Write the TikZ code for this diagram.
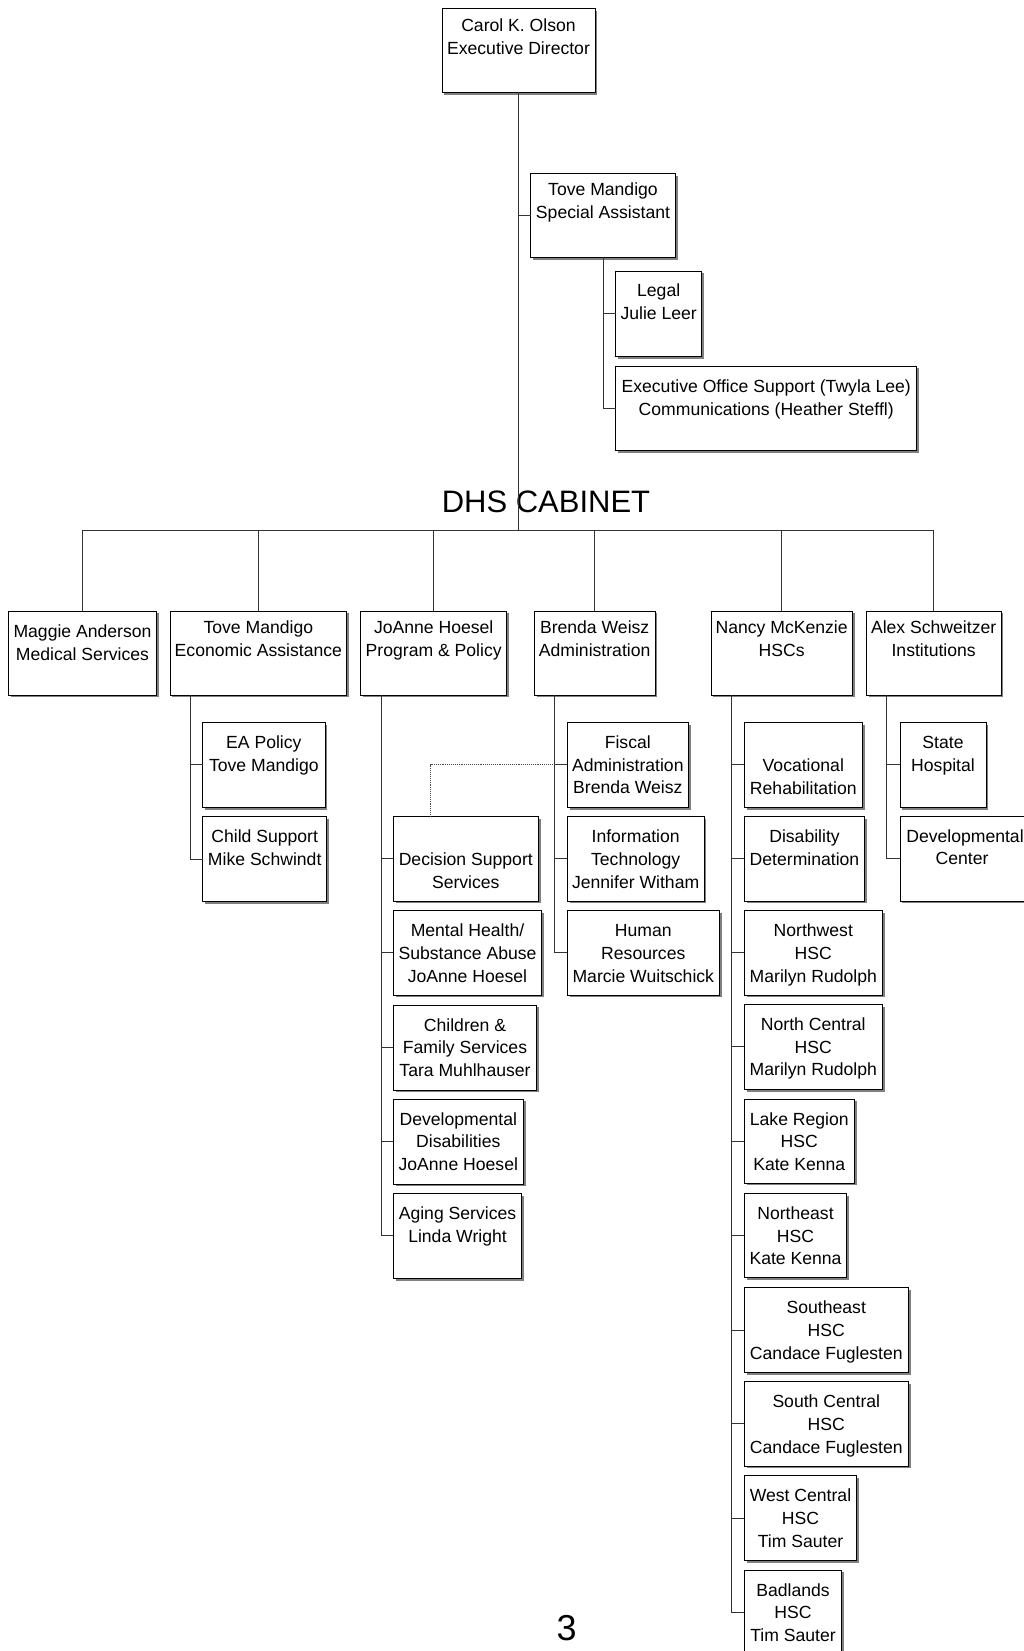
\documentclass[tikz,border=0pt]{standalone}
\usepackage{fontspec}
\setmainfont{Liberation Sans}
\usetikzlibrary{shadows}
\newcommand\boxtxt[4]{\parbox[c][#2][t]{#1}{\centering\rule{0pt}{#3}#4}}
\newcommand\orgnode[7]{%
  \pgfmathsetmacro\obw{#4-#2}\pgfmathsetmacro\obh{#5-#3}%
  \node[orgbox, anchor=north west] (#1) at (#2,#3) {\boxtxt{\obw pt}{\obh pt}{#6pt}{#7}};}
\tikzset{
  orgbox/.style={draw=black, line width=1pt, fill=white, inner sep=0pt, outer sep=0pt,
    drop shadow={shadow xshift=2.3pt, shadow yshift=-2.3pt, fill=black!50, opacity=1},
    font=\fontsize{17.6}{22.7}\selectfont},
  conn/.style={draw=black!80, line width=1pt},
  dotconn/.style={draw=black!70, line width=0.9pt, densely dotted}
}
\begin{document}
\begin{tikzpicture}[x=1pt, y=-1pt]
\useasboundingbox (0,0) rectangle (1024,1651);
\fill[white] (0,0) rectangle (1024,1651);
\clip (0,0) rectangle (1024,1651);

% top
\orgnode{carol}{442}{8.3}{595}{92.3}{23.4}{Carol K. Olson\\Executive Director}
\orgnode{tovesa}{530.7}{173.3}{675.3}{257.3}{22}{Tove Mandigo\\Special Assistant}
\orgnode{legal}{615.7}{271}{701.7}{356.7}{25.7}{Legal\\Julie Leer}
\orgnode{exec}{615.7}{366}{916.7}{450.7}{26.3}{Executive Office Support (Twyla Lee)\\Communications (Heather Steffl)}

\node[font=\fontsize{31}{31}\selectfont, anchor=base] (cabinet) at (546,512.3) {DHS CABINET};

% level 2
\orgnode{maggie}{8.3}{611}{156.7}{695}{26.3}{Maggie Anderson\\Medical Services}
\orgnode{toveea}{170}{611}{346.7}{695}{22.3}{Tove Mandigo\\Economic Assistance}
\orgnode{joanne}{360.7}{611}{506.7}{695}{22.3}{JoAnne Hoesel\\Program \& Policy}
\orgnode{brenda}{534.3}{611}{655}{695}{22.3}{Brenda Weisz\\Administration}
\orgnode{nancy}{711}{611}{852.3}{695}{22.3}{Nancy McKenzie\\HSCs}
\orgnode{alex}{866.3}{611}{1001}{695}{22.3}{Alex Schweitzer\\Institutions}

% Economic assistance
\orgnode{eapol}{202.7}{722.3}{325}{807.3}{26}{EA Policy\\Tove Mandigo}
\orgnode{chsup}{202.7}{816.3}{326.7}{901.7}{26}{Child Support\\Mike Schwindt}

% Program & policy
\orgnode{dss}{393.3}{816.7}{538.3}{901}{49}{Decision Support\\Services}
\orgnode{mhsa}{393.3}{910.7}{541.7}{995}{26}{Mental Health/\\Substance Abuse\\JoAnne Hoesel}
\orgnode{cfs}{393.3}{1005}{536.7}{1090}{26}{Children \&\\Family Services\\Tara Muhlhauser}
\orgnode{dd}{393.3}{1099}{523.3}{1184}{26}{Developmental\\Disabilities\\JoAnne Hoesel}
\orgnode{aging}{393.3}{1193.3}{521.7}{1278.3}{26}{Aging Services\\Linda Wright}

% Administration
\orgnode{fiscal}{567.3}{722.3}{688.3}{807.3}{26}{Fiscal\\Administration\\Brenda Weisz}
\orgnode{it}{567.3}{816.7}{704}{901}{26}{Information\\Technology\\Jennifer Witham}
\orgnode{hr}{567.3}{910.7}{719.3}{995}{26}{Human\\Resources\\Marcie Wuitschick}

% HSCs
\orgnode{voc}{744.3}{722.3}{862.3}{807.3}{49}{Vocational\\Rehabilitation}
\orgnode{disdet}{744.3}{816.7}{864.7}{901}{26}{Disability\\Determination}
\orgnode{nw}{744.3}{910.7}{882.3}{995}{26}{Northwest\\HSC\\Marilyn Rudolph}
\orgnode{nc}{744.3}{1004.3}{882.3}{1089.3}{26}{North Central\\HSC\\Marilyn Rudolph}
\orgnode{lake}{744.3}{1099}{854.3}{1183}{26}{Lake Region\\HSC\\Kate Kenna}
\orgnode{ne}{744.3}{1193.3}{846.7}{1277.3}{26}{Northeast\\HSC\\Kate Kenna}
\orgnode{se}{744.3}{1287.7}{908.3}{1372.7}{26}{Southeast\\HSC\\Candace Fuglesten}
\orgnode{sc}{744.3}{1381.7}{908.3}{1466}{26}{South Central\\HSC\\Candace Fuglesten}
\orgnode{wc}{744.3}{1475.7}{856.7}{1560.7}{26}{West Central\\HSC\\Tim Sauter}
\orgnode{bad}{744.3}{1570}{841.7}{1655}{26}{Badlands\\HSC\\Tim Sauter}

% Institutions
\orgnode{sh}{900}{722.3}{986}{807.3}{26}{State\\Hospital}
\orgnode{devc}{900}{816}{1030}{901}{26}{Developmental\\\hspace*{-6pt}Center}

\node[font=\fontsize{36}{36}\selectfont, anchor=base] (pagenum) at (566.7,1640) {3};

% connectors
\coordinate (cab) at (518.5,530.7);
\draw[conn] (carol.south) -- (cab);
\draw[conn] (carol.south |- tovesa.west) -- (tovesa.west);
\draw[conn] (tovesa.south) |- (legal.west);
\draw[conn] (tovesa.south) |- (exec.west);
\draw[conn] (maggie.north) |- (cab) -| (alex.north);
\foreach \n in {toveea,joanne,brenda,nancy} \draw[conn] (\n.north) -- (\n.north |- cab);

\coordinate (ttrunk) at ([xshift=20.5pt]toveea.south west);
\coordinate (jtrunk) at ([xshift=20.3pt]joanne.south west);
\coordinate (btrunk) at ([xshift=20pt]brenda.south west);
\coordinate (ntrunk) at ([xshift=20.7pt]nancy.south west);
\coordinate (atrunk) at ([xshift=20.4pt]alex.south west);

\foreach \c in {eapol,chsup} \draw[conn] (ttrunk) |- (\c.west);
\foreach \c in {dss,mhsa,cfs,dd,aging} \draw[conn] (jtrunk) |- (\c.west);
\foreach \c in {fiscal,it,hr} \draw[conn] (btrunk) |- (\c.west);
\foreach \c in {voc,disdet,nw,nc,lake,ne,se,sc,wc,bad} \draw[conn] (ntrunk) |- (\c.west);
\foreach \c in {sh,devc} \draw[conn] (atrunk) |- (\c.west);

\draw[dotconn] ([xshift=37.4pt]dss.north west) |- (btrunk |- fiscal.west);
\end{tikzpicture}
\end{document}
